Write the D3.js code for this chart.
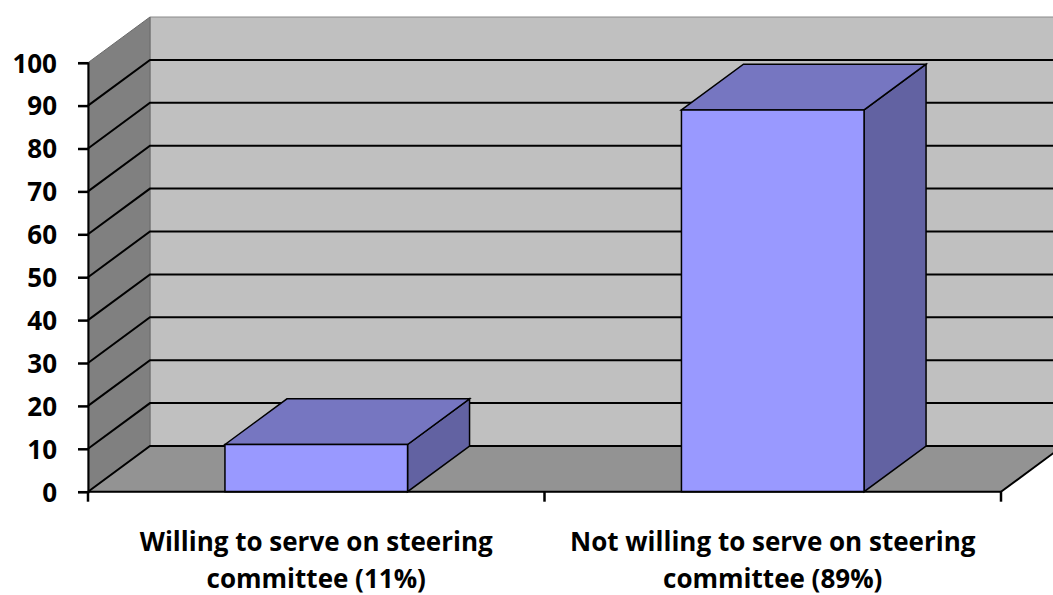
<!DOCTYPE html>
<html>
<head>
<meta charset="utf-8">
<script src="https://cdn.jsdelivr.net/npm/d3@7"></script>
<style>
  html, body { margin: 0; padding: 0; background: #ffffff; overflow: hidden; }
  svg { display: block; }
  text { font-family: "Open Sans", "Lato", sans-serif; font-weight: bold; fill: #000; }
</style>
</head>
<body>
<svg id="chart" width="1053" height="595"></svg>
<script>
// ---- data ----
const categories = ["Willing to serve on steering committee (11%)", "Not willing to serve on steering committee (89%)"];
const labelLines = [["Willing to serve on steering", "committee (11%)"], ["Not willing to serve on steering", "committee (89%)"]];
const values = [11, 89];
const yTicks = [0, 10, 20, 30, 40, 50, 60, 70, 80, 90, 100];

// ---- layout ----
const x0 = 88, x1 = 1001;
const depthX = 62, depthY = -45.7;
const FONT = "'Open Sans', Lato, sans-serif";

const svg = d3.select("#chart");

const x = d3.scaleBand().domain(categories).range([x0, x1]).paddingInner(0.6).paddingOuter(0.3);
const y = d3.scaleLinear().domain([0, 100]).range([491.7, 62.7]);

const line = d3.line();
function poly(pts, fill, stroke, sw) {
  svg.append("path")
    .attr("d", line(pts) + "Z")
    .attr("fill", fill)
    .attr("stroke", stroke || "none")
    .attr("stroke-width", sw || 0)
    .attr("stroke-linejoin", "miter");
}

const yTop = y(100), yBase = y(0);
const bx0 = x0 + depthX, bx1 = x1 + depthX;

// back wall
poly([[bx0, yTop + depthY], [bx1, yTop + depthY], [bx1, yBase + depthY], [bx0, yBase + depthY]], "#c0c0c0", "#8a8a8a", 1);
// side wall
poly([[x0, yTop], [bx0, yTop + depthY], [bx0, yBase + depthY], [x0, yBase]], "#808080", "#6a6a6a", 1);
// floor
poly([[x0, yBase], [bx0, yBase + depthY], [bx1, yBase + depthY], [x1, yBase]], "#939393", "#6a6a6a", 1);

// gridlines (back wall + side wall)
const gridVals = yTicks.filter(v => v < 100);
const grid = svg.append("g").attr("stroke", "#000").attr("stroke-width", 2).attr("fill", "none");
gridVals.forEach(v => {
  grid.append("path").attr("d", line([[x0, y(v)], [bx0, y(v) + depthY], [bx1, y(v) + depthY]]));
});
// floor right edge
svg.append("path").attr("d", line([[x1, yBase], [bx1, yBase + depthY]]))
  .attr("stroke", "#000").attr("stroke-width", 2).attr("fill", "none");

// bars
const bars = svg.append("g");
categories.forEach((c, i) => {
  const l = x(c), r = x(c) + x.bandwidth();
  const t = y(values[i]), b = y(0);
  const sk = "#000", sw = 1.5;
  poly([[r, t], [r + depthX, t + depthY], [r + depthX, b + depthY], [r, b]], "#6262a2", sk, sw);
  poly([[l, t], [l + depthX, t + depthY], [r + depthX, t + depthY], [r, t]], "#7676c1", sk, sw);
  poly([[l, t], [r, t], [r, b], [l, b]], "#9999ff", sk, sw);
});

// y axis
const yAxisG = svg.append("g").attr("transform", `translate(${x0},0)`)
  .call(d3.axisLeft(y).tickValues(yTicks).tickSize(10).tickPadding(21).tickFormat(d3.format("d")));
yAxisG.select(".domain").attr("stroke", "#000").attr("stroke-width", 2);
yAxisG.selectAll(".tick line").attr("stroke", "#000").attr("stroke-width", 2.5);
yAxisG.selectAll(".tick text").attr("font-size", 26).attr("font-family", FONT).attr("font-weight", "bold").attr("dy", "0.36em");

// x axis
const xAxisG = svg.append("g").attr("transform", `translate(0,${yBase})`);
xAxisG.append("path").attr("d", line([[x0, 0], [x1, 0]])).attr("stroke", "#000").attr("stroke-width", 2);
const xBoundaries = [x0, (x0 + x1) / 2, x1];
xBoundaries.forEach(xx => {
  xAxisG.append("line").attr("x1", xx).attr("x2", xx).attr("y1", 0).attr("y2", 10)
    .attr("stroke", "#000").attr("stroke-width", 2.5);
});
categories.forEach((c, i) => {
  const cx = x(c) + x.bandwidth() / 2;
  const t = xAxisG.append("text").attr("text-anchor", "middle").attr("font-size", 26).attr("font-family", FONT);
  labelLines[i].forEach((ln, k) => {
    t.append("tspan").attr("x", cx).attr("y", 59 + k * 37).text(ln);
  });
});
</script>
</body>
</html>
